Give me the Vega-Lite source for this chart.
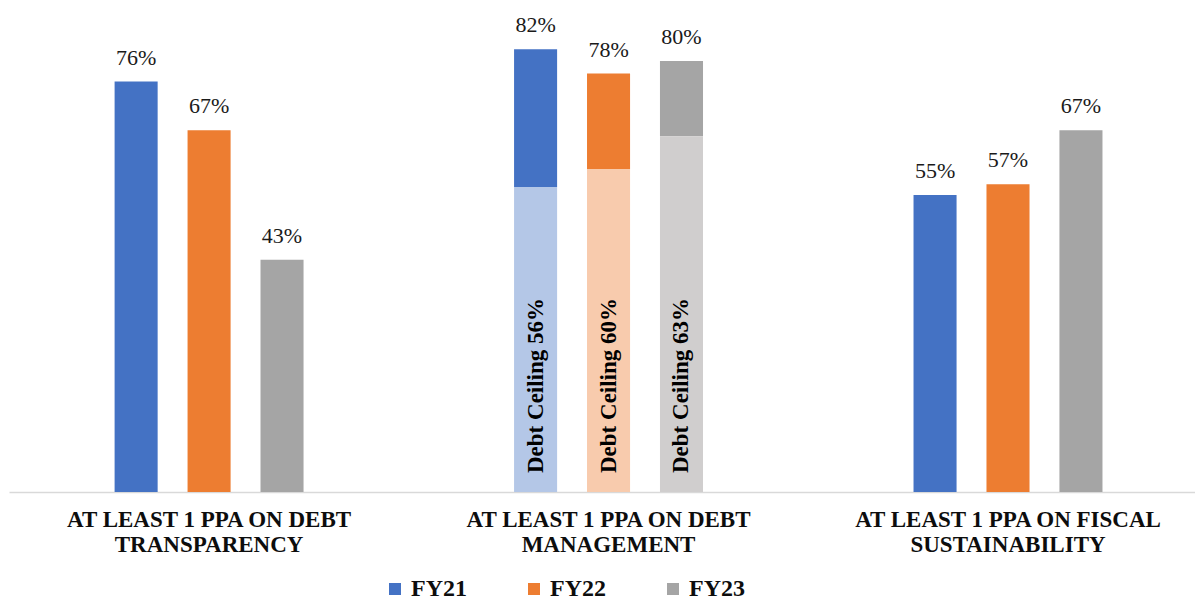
{
  "$schema": "https://vega.github.io/schema/vega-lite/v6.json",
  "autosize": {"type": "none"},
  "padding": {"left": 9, "top": 6, "right": 0, "bottom": 108},
  "width": 1186,
  "height": 486,
  "background": "white",
  "data": {
    "values": [
      {"group": "AT LEAST 1 PPA ON DEBT|TRANSPARENCY", "fy": "FY21", "value": 0.76, "base": 0, "ceiling": null, "ceilingText": null},
      {"group": "AT LEAST 1 PPA ON DEBT|TRANSPARENCY", "fy": "FY22", "value": 0.67, "base": 0, "ceiling": null, "ceilingText": null},
      {"group": "AT LEAST 1 PPA ON DEBT|TRANSPARENCY", "fy": "FY23", "value": 0.43, "base": 0, "ceiling": null, "ceilingText": null},
      {"group": "AT LEAST 1 PPA ON DEBT|MANAGEMENT", "fy": "FY21", "value": 0.82, "base": 0.565, "ceiling": 0.565, "ceilingText": "Debt Ceiling 56%"},
      {"group": "AT LEAST 1 PPA ON DEBT|MANAGEMENT", "fy": "FY22", "value": 0.775, "base": 0.598, "ceiling": 0.598, "ceilingText": "Debt Ceiling 60%"},
      {"group": "AT LEAST 1 PPA ON DEBT|MANAGEMENT", "fy": "FY23", "value": 0.798, "base": 0.659, "ceiling": 0.659, "ceilingText": "Debt Ceiling 63%"},
      {"group": "AT LEAST 1 PPA ON FISCAL|SUSTAINABILITY", "fy": "FY21", "value": 0.55, "base": 0, "ceiling": null, "ceilingText": null},
      {"group": "AT LEAST 1 PPA ON FISCAL|SUSTAINABILITY", "fy": "FY22", "value": 0.57, "base": 0, "ceiling": null, "ceilingText": null},
      {"group": "AT LEAST 1 PPA ON FISCAL|SUSTAINABILITY", "fy": "FY23", "value": 0.67, "base": 0, "ceiling": null, "ceilingText": null}
    ]
  },
  "encoding": {
    "x": {
      "field": "group",
      "type": "nominal",
      "sort": null,
      "scale": {"paddingInner": 0.527, "paddingOuter": 0.248, "align": 0.533},
      "axis": {
        "title": null,
        "labelAngle": 0,
        "labelExpr": "split(datum.label, '|')",
        "labelFont": "Liberation Serif",
        "labelFontWeight": "bold",
        "labelFontSize": 23,
        "labelLineHeight": 25,
        "labelColor": "#0d0d0d",
        "labelPadding": 16,
        "labelLimit": 500,
        "ticks": false,
        "domainColor": "#d9d9d9",
        "domainWidth": 1.5
      }
    },
    "xOffset": {
      "field": "fy",
      "type": "nominal",
      "sort": ["FY21", "FY22", "FY23"],
      "scale": {"paddingInner": 0.41, "paddingOuter": 0}
    }
  },
  "layer": [
    {
      "mark": {"type": "bar"},
      "encoding": {
        "y": {"field": "value", "type": "quantitative", "scale": {"domain": [0, 0.9], "nice": false, "zero": true}, "axis": null},
        "y2": {"field": "base"},
        "color": {
          "field": "fy",
          "type": "nominal",
          "scale": {"domain": ["FY21", "FY22", "FY23"], "range": ["#4472c4", "#ed7d31", "#a5a5a5"]},
          "legend": {
            "title": null,
            "orient": "none",
            "direction": "horizontal",
            "legendX": 374,
            "legendY": 571,
            "symbolType": "square",
            "symbolSize": 144,
            "symbolStrokeWidth": 0,
            "labelFont": "Liberation Serif",
            "labelFontWeight": "bold",
            "labelFontSize": 24,
            "labelColor": "#0d0d0d",
            "labelOffset": 4,
            "columnPadding": 55,
            "gridAlign": "all"
          }
        }
      }
    },
    {
      "transform": [{"filter": "datum.ceiling != null"}],
      "mark": {"type": "bar"},
      "encoding": {
        "y": {"field": "ceiling", "type": "quantitative"},
        "y2": {"datum": 0},
        "color": {
          "field": "fy",
          "type": "nominal",
          "scale": {"domain": ["FY21", "FY22", "FY23"], "range": ["#b4c7e7", "#f8cbad", "#d0cece"]},
          "legend": null
        }
      }
    },
    {
      "mark": {"type": "text", "font": "Liberation Serif", "fontSize": 22, "color": "#1a1a1a", "baseline": "alphabetic", "dy": -17},
      "encoding": {
        "y": {"field": "value", "type": "quantitative"},
        "text": {"field": "value", "type": "quantitative", "format": ".0%"}
      }
    },
    {
      "transform": [{"filter": "datum.ceiling != null"}],
      "mark": {"type": "text", "font": "Liberation Serif", "fontSize": 23, "fontWeight": "bold", "color": "#000000", "angle": 270, "align": "left", "baseline": "middle", "dx": 19},
      "encoding": {
        "y": {"datum": 0, "type": "quantitative"},
        "text": {"field": "ceilingText", "type": "nominal"}
      }
    }
  ],
  "resolve": {"scale": {"color": "independent"}},
  "config": {"view": {"stroke": null}}
}
